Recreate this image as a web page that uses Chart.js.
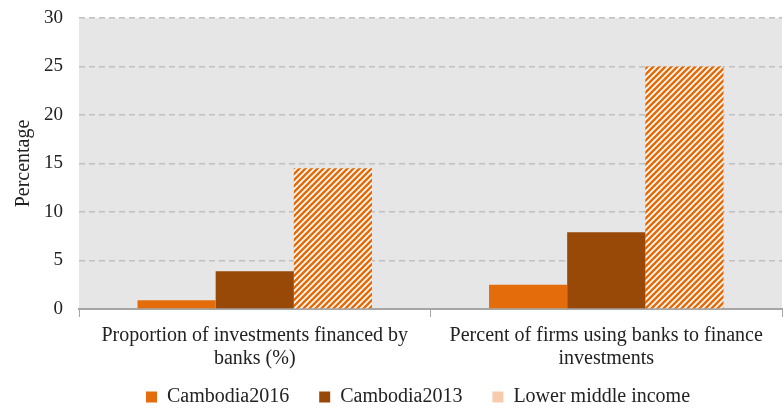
<!DOCTYPE html>
<html>
<head>
<meta charset="utf-8">
<script src="https://cdn.jsdelivr.net/npm/chart.js@4/dist/chart.umd.min.js"></script>
<style>
html,body{margin:0;padding:0;background:#fff;}
#wrap{width:784px;height:409px;}
</style>
</head>
<body>
<div id="wrap"><canvas id="c" width="784" height="409"></canvas></div>
<script>
const categories = [["Proportion of investments financed by", "banks (%)"], ["Percent of firms using banks to finance", "investments"]];
const cambodia2016 = [0.9, 2.5];
const cambodia2013 = [3.9, 7.9];
const lowerMiddleIncome = [14.5, 25];
const seriesNames = ["Cambodia2016", "Cambodia2013", "Lower middle income"];
const yTicks = [0, 5, 10, 15, 20, 25, 30];

function makePattern() {
  const n = 6;
  const pc = document.createElement('canvas');
  pc.width = n; pc.height = n;
  const g = pc.getContext('2d');
  g.fillStyle = '#ffffff';
  g.fillRect(0, 0, n, n);
  g.strokeStyle = '#E46C0A';
  g.lineWidth = 2.6;
  g.beginPath();
  g.moveTo(-1, n + 1); g.lineTo(n + 1, -1);
  g.moveTo(-1, 1); g.lineTo(1, -1);
  g.moveTo(n - 1, n + 1); g.lineTo(n + 1, n - 1);
  g.stroke();
  return g.createPattern(pc, 'repeat');
}
const ctx = document.getElementById('c').getContext('2d');
const stripe = makePattern();

const bgPlugin = {
  id: 'plotBg',
  afterLayout(chart) {
    const lg = chart.legend;
    if (lg) { const shift = 418 - (lg.left + lg.right) / 2; lg.left += shift; lg.right += shift; }
    const xs = chart.scales.x;
    if (xs) { xs.bottom = xs.top + 70; }
  },
  beforeDraw(chart) {
    const a = chart.chartArea, c = chart.ctx;
    c.save();
    c.fillStyle = '#E6E6E6';
    c.fillRect(a.left, a.top, a.right - a.left, a.bottom - a.top);
    c.restore();
  }
};

const fam = "'Liberation Serif', 'Times New Roman', serif";

new Chart(ctx, {
  type: 'bar',
  data: {
    labels: categories,
    datasets: [
      { label: seriesNames[0], data: cambodia2016, backgroundColor: '#E46C0A' },
      { label: seriesNames[1], data: cambodia2013, backgroundColor: '#984807' },
      { label: seriesNames[2], data: lowerMiddleIncome, backgroundColor: stripe }
    ]
  },
  plugins: [bgPlugin],
  options: {
    responsive: false,
    animation: false,
    layout: { padding: { top: 18, right: 2, left: 0, bottom: -8 } },
    datasets: { bar: { categoryPercentage: 0.667, barPercentage: 1.0 } },
    plugins: {
      tooltip: { enabled: false },
      legend: {
        position: 'bottom',
        labels: {
          color: '#222',
          font: { family: fam, size: 20 },
          boxWidth: 11,
          boxHeight: 11,
          padding: 30,
          generateLabels(chart) {
            const items = Chart.defaults.plugins.legend.labels.generateLabels(chart);
            const fills = ['#E46C0A', '#984807', '#F8CBAD'];
            items.forEach((it, i) => { it.fillStyle = fills[i]; it.strokeStyle = fills[i]; it.lineWidth = 0; });
            return items;
          }
        }
      }
    },
    scales: {
      x: {
        afterFit(scale) { scale.height = 48; scale.paddingTop = 0; scale.paddingBottom = 0; },
        grid: { display: true, drawOnChartArea: false, drawTicks: true, tickLength: 8, color: '#A6A6A6', offset: true },
        border: { display: true, color: '#A6A6A6', width: 2 },
        ticks: { color: '#222', font: { family: fam, size: 20, lineHeight: 1.15 }, padding: 7, maxRotation: 0, autoSkip: false }
      },
      y: {
        min: 0, max: 30,
        afterFit(scale) { scale.width = 79; scale.paddingTop = 0; scale.paddingBottom = 0; },
        afterBuildTicks(scale) { scale.ticks = yTicks.map(v => ({ value: v })); },
        ticks: { color: '#222', font: { family: fam, size: 19 }, padding: 16 },
        grid: { color: '#C0C0C0', lineWidth: 1.5, drawTicks: false },
        border: { display: false, dash: [6, 4] },
        title: { display: true, text: 'Percentage', color: '#222', font: { family: fam, size: 20 }, padding: { top: 12, bottom: 0 } }
      }
    }
  }
});
</script>
</body>
</html>
